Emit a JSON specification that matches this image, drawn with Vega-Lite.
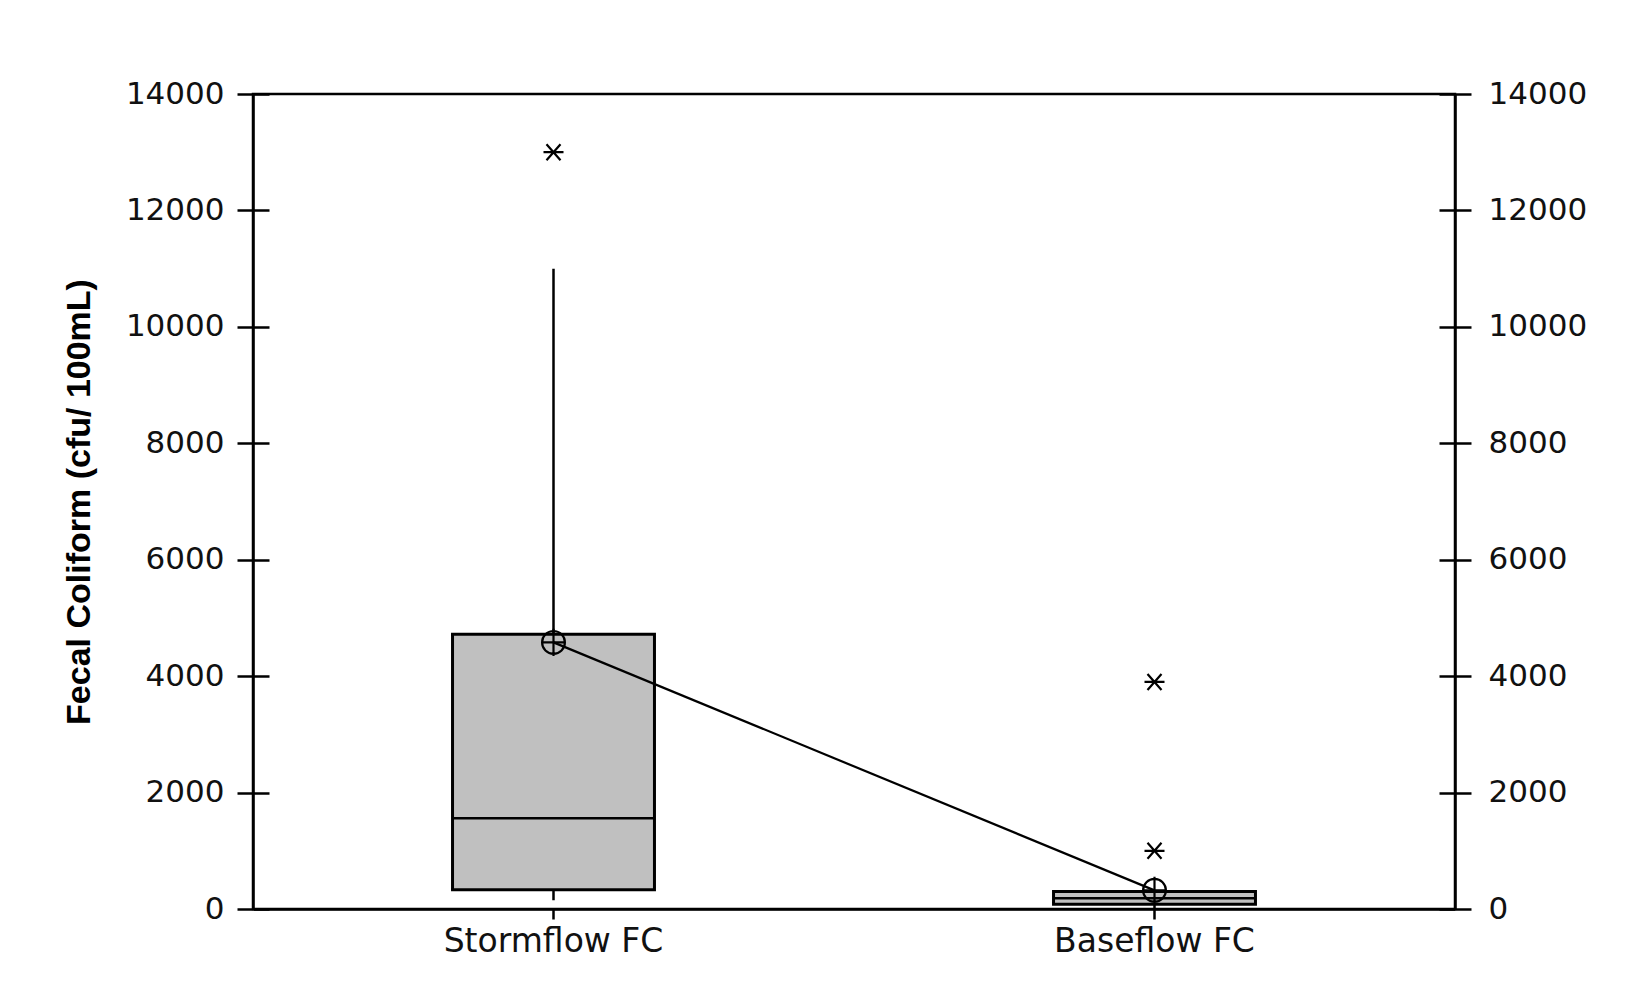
{
  "$schema": "https://vega.github.io/schema/vega-lite/v6.json",
  "width": 1202,
  "height": 815,
  "autosize": {"type": "none"},
  "padding": {"left": 253, "top": 94, "right": 188, "bottom": 86},
  "background": "white",
  "config": {
    "view": {"stroke": "black", "strokeWidth": 2.5},
    "axis": {"domainColor": "black", "domainWidth": 2.5, "tickColor": "black", "tickWidth": 2.5, "labelColor": "#111", "labelFont": "DejaVu Sans", "labelLimit": 600}
  },
  "datasets": {
    "boxes": [
      {"group": "Stormflow FC", "lower": 150, "q1": 330, "median": 1560, "q3": 4720, "upper": 11000, "mean": 4580},
      {"group": "Baseflow FC", "lower": 10, "q1": 80, "median": 185, "q3": 300, "upper": 300, "mean": 320}
    ],
    "outliers": [
      {"group": "Stormflow FC", "value": 13000},
      {"group": "Baseflow FC", "value": 3900},
      {"group": "Baseflow FC", "value": 1000}
    ]
  },
  "encoding": {
    "x": {
      "field": "group", "type": "nominal", "sort": ["Stormflow FC", "Baseflow FC"],
      "scale": {"paddingInner": 0, "paddingOuter": 0},
      "axis": {"title": null, "labelAngle": 0, "tickSize": 10, "labelFontSize": 33, "labelPadding": 6, "labelLimit": 600, "grid": false}
    }
  },
  "layer": [
    {
      "data": {"name": "boxes"},
      "mark": {"type": "rule", "stroke": "black", "strokeWidth": 2.5},
      "encoding": {
        "y": {
          "field": "lower", "type": "quantitative", "scale": {"domain": [0, 14000], "nice": false},
          "axis": {
            "orient": "left", "title": "Fecal Coliform (cfu/ 100mL)",
            "values": [0, 2000, 4000, 6000, 8000, 10000, 12000, 14000], "format": "d",
            "tickSize": 16, "labelFontSize": 31, "labelPadding": 13,
            "grid": true, "gridColor": "black", "gridWidth": 2.5, "gridDash": [16, 1170],
            "titleFont": "Liberation Sans", "titleFontWeight": "bold", "titleFontSize": 34, "titleColor": "black", "titlePadding": 29
          }
        },
        "y2": {"field": "upper"}
      }
    },
    {
      "data": {"name": "boxes"},
      "mark": {"type": "bar", "fill": "#c0c0c0", "stroke": "black", "strokeWidth": 3, "width": {"band": 0.336}},
      "encoding": {
        "y": {"field": "q1", "type": "quantitative", "scale": {"domain": [0, 14000], "nice": false}, "axis": null},
        "y2": {"field": "q3"}
      }
    },
    {
      "data": {"name": "boxes"},
      "mark": {"type": "tick", "color": "black", "size": 202, "thickness": 2.5, "opacity": 1},
      "encoding": {
        "y": {"field": "median", "type": "quantitative", "scale": {"domain": [0, 14000], "nice": false}, "axis": null}
      }
    },
    {
      "data": {"name": "boxes"},
      "mark": {"type": "line", "color": "black", "strokeWidth": 2.2},
      "encoding": {
        "y": {"field": "mean", "type": "quantitative", "scale": {"domain": [0, 14000], "nice": false}, "axis": null}
      }
    },
    {
      "data": {"name": "boxes"},
      "mark": {"type": "point", "shape": "M-1,0A1,1 0 1,0 1,0A1,1 0 1,0 -1,0M-1,0H1M0,-1.2V1.2", "size": 520, "stroke": "black", "strokeWidth": 2.2, "filled": false, "opacity": 1},
      "encoding": {
        "y": {"field": "mean", "type": "quantitative", "scale": {"domain": [0, 14000], "nice": false}, "axis": null}
      }
    },
    {
      "data": {"name": "outliers"},
      "mark": {"type": "point", "shape": "M-1,0H1M-0.7,-0.8L0.7,0.8M-0.7,0.8L0.7,-0.8", "size": 400, "stroke": "black", "strokeWidth": 2.2, "filled": false, "opacity": 1},
      "encoding": {
        "y": {
          "field": "value", "type": "quantitative", "scale": {"domain": [0, 14000], "nice": false},
          "axis": {
            "orient": "right", "title": null,
            "values": [0, 2000, 4000, 6000, 8000, 10000, 12000, 14000], "format": "d",
            "tickSize": 16, "labelFontSize": 31, "labelPadding": 17, "grid": false
          }
        }
      }
    }
  ],
  "resolve": {"axis": {"y": "independent"}}
}
